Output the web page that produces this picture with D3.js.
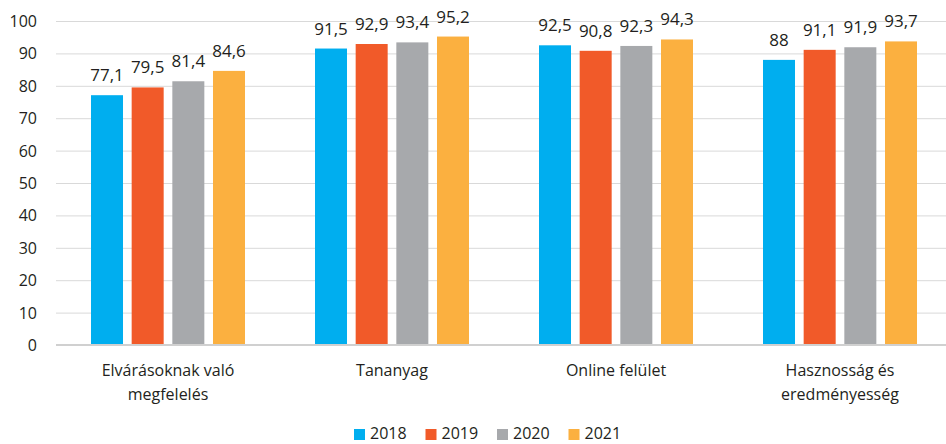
<!DOCTYPE html>
<html><head><meta charset="utf-8">
<script src="https://cdn.jsdelivr.net/npm/d3@7"></script>
<style>body{margin:0;background:#fff}svg{display:block}text{font-family:"Open Sans","Noto Sans",sans-serif;fill:#231f20}</style>
</head><body><svg id="c" width="946" height="444"></svg>
<script>
const categories = ["Elvárásoknak való|megfelelés", "Tananyag", "Online felület", "Hasznosság és|eredményesség"];
const years = ["2018", "2019", "2020", "2021"];
const v2018 = [77.1, 91.5, 92.5, 88];
const v2019 = [79.5, 92.9, 90.8, 91.1];
const v2020 = [81.4, 93.4, 92.3, 91.9];
const v2021 = [84.6, 95.2, 94.3, 93.7];
const yTicks = [0,10,20,30,40,50,60,70,80,90,100];
const colors = ["#00aeef", "#f15a29", "#a7a9ac", "#fbb040"];
const series = [v2018, v2019, v2020, v2021];

const svg = d3.select("#c");
const y = d3.scaleLinear().domain([0,100]).range([345,21]);
const x0 = d3.scaleBand().domain(categories).range([56,952]);
const x1 = d3.scaleBand().domain(years).range([35,189]).paddingInner(0.213).paddingOuter(0);

// gridlines
svg.append("g").selectAll("line").data(yTicks.filter(t=>t>0)).join("line")
  .attr("x1",56).attr("x2",946).attr("y1",d=>y(d)+0.5).attr("y2",d=>y(d)+0.5)
  .attr("stroke","#d9d9d9").attr("stroke-width",1);

// y tick labels
const yAxis = svg.append("g").attr("transform","translate(56,0)")
  .call(d3.axisLeft(y).tickValues(yTicks).tickSize(0).tickPadding(19).tickFormat(d3.format("d")));
yAxis.select(".domain").remove();
yAxis.selectAll("text").style("font-size","16px").attr("fill","#231f20").attr("dy","0.34em");

// bars
const g = svg.append("g").selectAll("g").data(categories).join("g")
  .attr("transform",d=>`translate(${x0(d)},0)`);
g.each(function(c,ci){
  const gg = d3.select(this);
  years.forEach((yr,si)=>{
    const v = series[si][ci];
    gg.append("rect").attr("x",x1(yr)).attr("width",x1.bandwidth())
      .attr("y",y(v)).attr("height",y(0)-y(v)).attr("fill",colors[si]);
    gg.append("text").attr("x",x1(yr)+x1.bandwidth()/2).attr("y",y(v)-14)
      .attr("text-anchor","middle").style("font-size","17px")
      .text(String(v).replace(".",","));
  });
});

// baseline
svg.append("line").attr("x1",56).attr("x2",946).attr("y1",y(0)).attr("y2",y(0))
  .attr("stroke","#d0d0d0").attr("stroke-width",2);

// category labels
categories.forEach(c=>{
  const lines = c.split("|");
  const t = svg.append("text").attr("text-anchor","middle").style("font-size","16px")
    .attr("x",x0(c)+x0.bandwidth()/2).attr("y",376);
  lines.forEach((l,i)=>t.append("tspan").attr("x",x0(c)+x0.bandwidth()/2).attr("dy",i?24:0).text(l));
});

// legend
const lx = d3.scaleBand().domain(years).range([354,640]);
const lg = svg.append("g").selectAll("g").data(years).join("g")
  .attr("transform",d=>`translate(${lx(d)},0)`);
lg.append("rect").attr("x",0).attr("y",429).attr("width",11).attr("height",11).attr("fill",(d,i)=>colors[i]);
lg.append("text").attr("x",16).attr("y",439).style("font-size","16px").text(d=>d);
</script></body></html>
